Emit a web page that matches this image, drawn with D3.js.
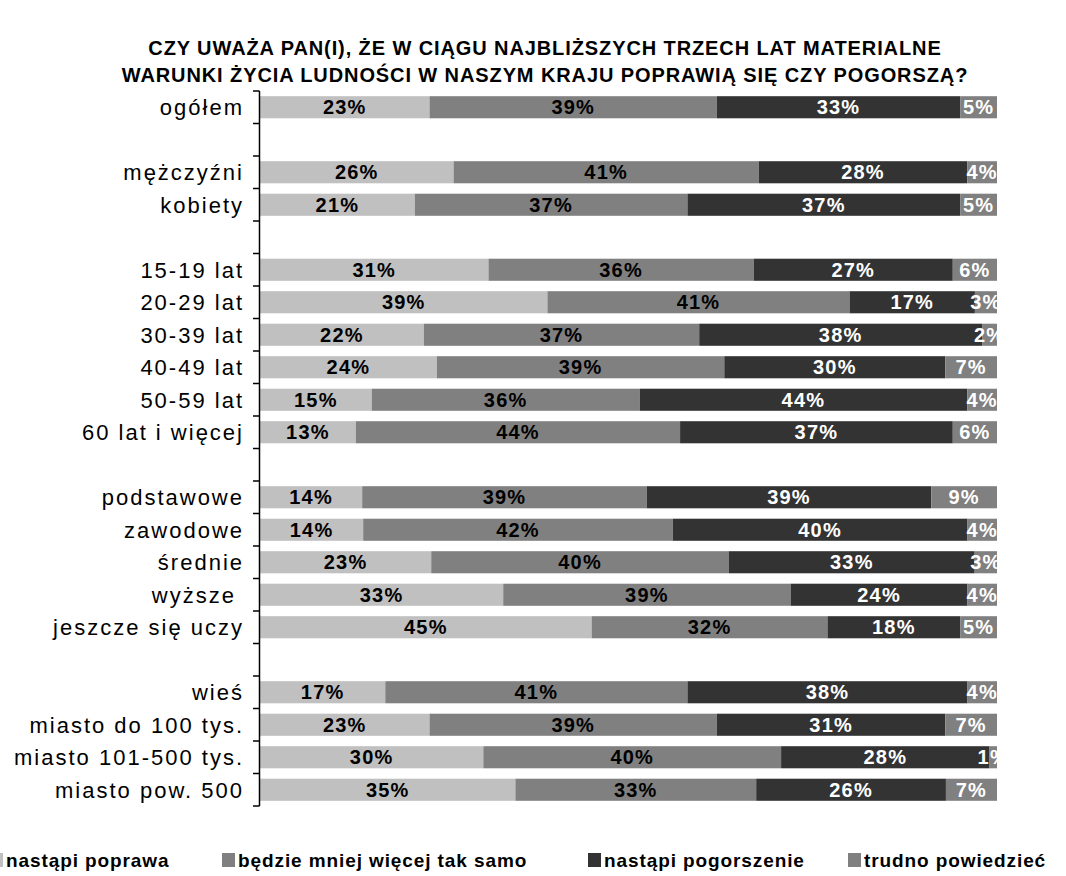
<!DOCTYPE html>
<html><head><meta charset="utf-8">
<script src="https://cdn.jsdelivr.net/npm/d3@7"></script>
<style>body{margin:0;background:#fff}svg{display:block}text{font-family:"Liberation Sans",Arial,sans-serif;white-space:pre}</style>
</head><body><svg id="c" width="1066" height="876"></svg>
<script>
const categories = ["ogółem","","mężczyźni","kobiety","","15-19 lat","20-29 lat","30-39 lat","40-49 lat","50-59 lat","60 lat i więcej","","podstawowe","zawodowe","średnie","wyższe ","jeszcze się uczy","","wieś","miasto do 100 tys.","miasto 101-500 tys.","miasto pow. 500"];
const poprawa     = [23,null,26,21,null,31,39,22,24,15,13,null,14,14,23,33,45,null,17,23,30,35];
const takSamo     = [39,null,41,37,null,36,41,37,39,36,44,null,39,42,40,39,32,null,41,39,40,33];
const pogorszenie = [33,null,28,37,null,27,17,38,30,44,37,null,39,40,33,24,18,null,38,31,28,26];
const trudno      = [5,null,4,5,null,6,3,2,7,4,6,null,9,4,3,4,5,null,4,7,1,7];
const seriesNames = ["nastąpi poprawa","będzie mniej więcej tak samo","nastąpi pogorszenie","trudno powiedzieć"];
const titleLines = ["CZY UWAŻA PAN(I), ŻE W CIĄGU NAJBLIŻSZYCH TRZECH LAT MATERIALNE","WARUNKI ŻYCIA LUDNOŚCI W NASZYM KRAJU POPRAWIĄ SIĘ CZY POGORSZĄ?"];

const colors = ["#c0c0c0","#808080","#333333","#808080"];
const labelColors = ["#000","#000","#fff","#fff"];
const keys = ["a","b","c","d"];
const rows = categories.map((c,i)=>({i, cat:c, a:poprawa[i], b:takSamo[i], c:pogorszenie[i], d:trudno[i]}));
const dataRows = rows.filter(r=>r.a!==null);

const svg = d3.select("#c");
const pLeft = 260, pRight = 997, pTop = 91, pBottom = 806;
const y = d3.scaleBand().domain(d3.range(categories.length)).range([pTop,pBottom]).paddingInner(0.32).paddingOuter(0.16);
const x = d3.scaleLinear().domain([0,1]).range([pLeft,pRight]);

const stack = d3.stack().keys(keys).offset(d3.stackOffsetExpand);
const series = stack(dataRows);

svg.append("defs").append("clipPath").attr("id","plot").append("rect")
  .attr("x",pLeft).attr("y",pTop).attr("width",pRight-pLeft).attr("height",pBottom-pTop);

const g = svg.append("g");
series.forEach((s,k)=>{
  g.selectAll(null).data(s).enter().append("rect")
    .attr("x",d=>x(d[0])).attr("width",d=>x(d[1])-x(d[0]))
    .attr("y",d=>y(d.data.i)).attr("height",y.bandwidth())
    .attr("fill",colors[k]);
});
const lg = svg.append("g").attr("clip-path","url(#plot)");
series.forEach((s,k)=>{
  lg.selectAll(null).data(s).enter().append("text")
    .attr("x",d=>(x(d[0])+x(d[1]))/2).attr("y",d=>y(d.data.i)+y.bandwidth()/2)
    .attr("dy","0.36em").attr("text-anchor","middle")
    .attr("font-size",20).attr("font-weight","bold").attr("letter-spacing","1.2px")
    .attr("fill",labelColors[k])
    .text(d=>d.data[keys[k]]+"%");
});

// axis
const ax = svg.append("g");
ax.append("line").attr("x1",pLeft-0.5).attr("x2",pLeft-0.5).attr("y1",pTop).attr("y2",pBottom).attr("stroke","#000").attr("stroke-width",1.5);
const bounds = d3.range(categories.length+1).map(i=>pTop + i*y.step());
ax.selectAll(null).data(bounds).enter().append("line")
  .attr("x1",pLeft-7).attr("x2",pLeft-0.5).attr("y1",d=>d).attr("y2",d=>d).attr("stroke","#000").attr("stroke-width",1.5);
ax.selectAll(null).data(rows.filter(r=>r.cat.trim()!=="")).enter().append("text")
  .attr("x",244).attr("y",d=>y(d.i)+y.bandwidth()/2).attr("dy","0.36em")
  .attr("text-anchor","end").attr("font-size",22).attr("letter-spacing","2px").attr("fill","#000")
  .text(d=>d.cat);

// title
svg.selectAll(null).data(titleLines).enter().append("text")
  .attr("x",545).attr("y",(d,i)=>55+i*27).attr("text-anchor","middle")
  .attr("font-size",20).attr("font-weight","bold").attr("letter-spacing","0.9px").text(d=>d);

// legend
const legX = [-10,222,588,848];
const leg = svg.append("g");
seriesNames.forEach((n,k)=>{
  leg.append("rect").attr("x",legX[k]).attr("y",853).attr("width",13).attr("height",14).attr("fill",colors[k]);
  leg.append("text").attr("x",legX[k]+16).attr("y",867).attr("font-size",19).attr("font-weight","bold").attr("letter-spacing","0.9px").text(n);
});
</script></body></html>
